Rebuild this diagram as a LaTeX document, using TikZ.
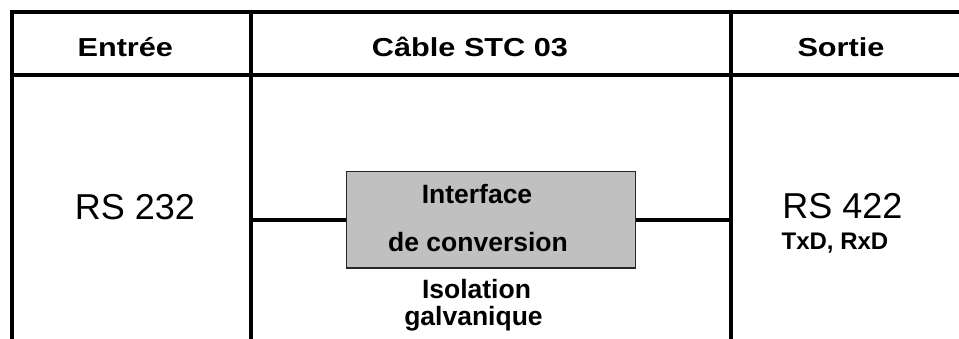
\documentclass[tikz,border=0pt]{standalone}
\usepackage{fontspec}
\setmainfont{Liberation Sans}
\definecolor{boxgray}{HTML}{C0C0C0}
\tikzset{
  tableline/.style={line width=4.5pt, line cap=rect},
  conn/.style={line width=4pt},
  hdr/.style={anchor=base, inner sep=0pt, font=\fontsize{26}{30}\selectfont\bfseries},
  big/.style={anchor=base, inner sep=0pt, font=\fontsize{36}{40}\selectfont},
  lbl/.style={anchor=base, inner sep=0pt, font=\fontsize{26.5}{30}\selectfont\bfseries},
  sml/.style={anchor=base, inner sep=0pt, font=\fontsize{24}{28}\selectfont\bfseries},
  convbox/.style={draw=black!85, line width=1.5pt, fill=boxgray, minimum width=289pt, minimum height=96.5pt, inner sep=0pt}
}
\begin{document}
\begin{tikzpicture}[x=1pt, y=-1pt]
\useasboundingbox (0,0) rectangle (959,339);
% table
\draw[tableline] (962,12) -- (12,12) -- (12,345);
\draw[tableline] (12,75) -- (962,75);
\draw[tableline] (251,12) -- (251,345);
\draw[tableline] (731,12) -- (731,345);
% headers
\node[hdr] (h1) at (125.3,56.7) {\scalebox{1.18}[1]{Entrée}};
\node[hdr] (h2) at (470,56.7) {\scalebox{1.18}[1]{Câble STC 03}};
\node[hdr] (h3) at (841,56.7) {\scalebox{1.18}[1]{Sortie}};
% content
\node[big] (in) at (135,220) {RS 232};
\node[big] (out) at (842.5,218.3) {RS 422};
\node[sml] (sig) at (835,250) {TxD, RxD};
\node[convbox] (conv) at (491.2,220) {};
\node[lbl] (t1) at (477,204) {Interface};
\node[lbl] (t2) at (478,251.7) {de conversion};
\node[lbl] (t3) at (476.5,298.3) {Isolation};
\node[lbl] (t4) at (473.5,326) {galvanique};
% connectors
\coordinate (dl) at (251,220);
\coordinate (dr) at (731,220);
\draw[conn] (dl) -- (conv.west);
\draw[conn] (conv.east) -- (dr);
\end{tikzpicture}
\end{document}
